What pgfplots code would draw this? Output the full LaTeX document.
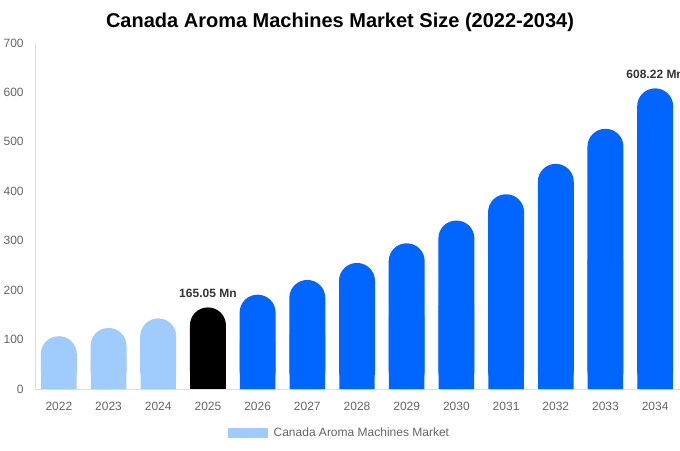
\documentclass[border=0pt]{standalone}
\usepackage{pgfplots}
\usepackage{pgfplotstable}
\usepackage{fontspec}
\setmainfont{Liberation Sans}
\pgfplotsset{compat=1.18}

\definecolor{histblue}{HTML}{9FCBFD}
\definecolor{fcblue}{HTML}{0066FF}
\definecolor{tickgray}{HTML}{666666}
\definecolor{labgray}{HTML}{333333}

% market size, USD Mn
\pgfplotstableread{
x v
0 106.8
1 123.5
2 142.8
}\histdata
\pgfplotstableread{
x v lab
3 165.05 {165.05 Mn}
}\basedata
\pgfplotstableread{
x v lab
4 190.8 {}
5 220.6 {}
6 255.0 {}
7 294.8 {}
8 340.8 {}
9 394.0 {}
10 455.4 {}
11 526.4 {}
12 608.22 {608.22 Mn}
}\fcdata

\begin{document}
\begin{tikzpicture}
\begin{axis}[
name=ax,
scale only axis,
width=483.75pt, height=259.5pt,
xmin=-0.48, xmax=12.5,
ymin=0, ymax=700,
ytick={0,100,...,700},
xtick={0,...,12},
xticklabels={2022,2023,2024,2025,2026,2027,2028,2029,2030,2031,2032,2033,2034},
axis x line*=bottom, axis y line*=left,
axis line style={draw=gray!25},
major tick length=0pt,
tick label style={font=\fontsize{9}{11}\selectfont, text=tickgray},
yticklabel style={xshift=-5pt},
xticklabel style={yshift=-6pt},
/pgf/number format/assume math mode=true,
ybar, bar width=27pt,
title={Canada Aroma Machines Market Size (2022-2034)},
title style={at={(0.4729,1.038)}, anchor=center, yshift=0pt, font=\bfseries\fontsize{15}{18}\selectfont},
legend style={at={(0.4729,-0.127)}, anchor=center, draw=none, font=\fontsize{9}{11}\selectfont, text=tickgray},
legend image code/.code={\fill[histblue, sharp corners] (0pt,-4pt) rectangle (30pt,4pt);},
nodes near coords style={font=\bfseries\fontsize{9}{11}\selectfont, text=labgray, yshift=4pt},
]
\addplot[fill=histblue, draw=none, bar shift=0pt, rounded corners=13.4pt] table[x=x,y=v] {\histdata};
\addlegendentry{\hspace{2pt}Canada Aroma Machines Market}
\addplot[forget plot, fill=black, draw=none, bar shift=0pt, rounded corners=13.4pt,
  nodes near coords, point meta=explicit symbolic] table[x=x,y=v,meta=lab] {\basedata};
\addplot[forget plot, fill=fcblue, draw=none, bar shift=0pt, rounded corners=13.4pt,
  nodes near coords, point meta=explicit symbolic] table[x=x,y=v,meta=lab] {\fcdata};
% square off the bottoms of the rounded bars
\addplot[forget plot, fill=histblue, draw=none, bar shift=0pt, bar width=26.6pt] table[x=x,y expr=\thisrow{v}/2] {\histdata};
\addplot[forget plot, fill=black, draw=none, bar shift=0pt, bar width=26.6pt] table[x=x,y expr=\thisrow{v}/2] {\basedata};
\addplot[forget plot, fill=fcblue, draw=none, bar shift=0pt, bar width=26.6pt] table[x=x,y expr=\thisrow{v}/2] {\fcdata};
\end{axis}
\pgfresetboundingbox
\path (ax.south west) ++(-26.25pt,-45.75pt) rectangle ++(510pt,337.5pt);
\end{tikzpicture}
\end{document}
